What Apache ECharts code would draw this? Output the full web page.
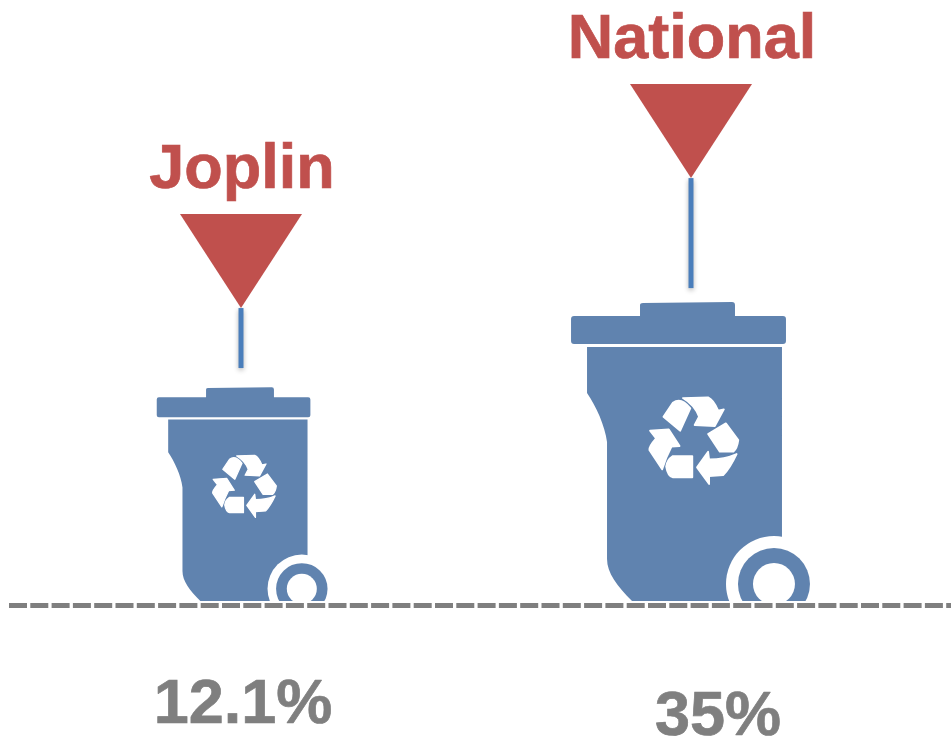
<!DOCTYPE html>
<html>
<head>
<meta charset="utf-8">
<style>html,body{margin:0;padding:0;background:#fff}#c{width:951px;height:738px}</style>
<script src="https://cdn.jsdelivr.net/npm/echarts@6/dist/echarts.min.js"></script>
</head>
<body>
<div id="c"></div>
<script>
var categories = ['Joplin', 'National'];
var recyclingRates = [12.1, 35];
var rateLabels = ['12.1%', '35%'];

// Presentation only: offsets per category, in pixels
var stemGap = [20, 15];
var stemLength = [60, 110];
var binDx = [1.5, 0];
var valueLabelDx = [2, 27];
var valueLabelY = [706, 718];
var nameGap = 43;

var C_BIN = '#6083AF', C_RED = '#C0504D', C_STEM = '#4A7EBB', C_GREY = '#7F7F7F';
var FONT = '"Liberation Sans", Arial, sans-serif';
var AXIS_MIN = -45.3, AXIS_MAX = 116.7, BIN_UNITS = 298;

var LID = 'M-117 -285 L-51 -285 L-51 -296 Q-51 -298 -48 -298 L41 -299 Q44 -299 44 -296 L44 -285 L92 -285 Q95 -285 95 -282 L95 -260 Q95 -257 92 -257 L-117 -257 Q-120 -257 -120 -260 L-120 -282 Q-120 -285 -117 -285 Z';
var BODY = 'M-104 -254 L91 -254 L91 0 L-59 0 C-74 -15 -84 -28 -84 -42 L-84 -159 C-86 -175 -95 -195 -104 -208 Z';
var RECYCLE = 'M130 24 L205 22 Q222 30 235 62 L252 58 L225 108 L165 105 L178 80 Q165 45 130 24 Z ' +
  'M72 80 L100 38 Q125 20 152 55 L122 122 Z ' +
  'M205 132 L258 100 L295 150 Q292 175 280 185 L240 185 Z ' +
  'M290 192 Q270 235 250 255 L208 258 L208 282 L172 232 L205 185 L208 208 Q255 208 290 192 Z ' +
  'M80 230 Q82 210 100 198 L158 198 L158 262 L100 262 Q85 260 80 230 Z ' +
  'M32 122 L88 118 L120 168 L96 170 Q78 205 68 238 L30 180 Q28 170 50 145 Z';

function renderBin(params, api) {
  var i = params.dataIndex;
  var top = api.coord([api.value(0), api.value(1)]);
  var base = api.coord([api.value(0), AXIS_MIN]);
  var mx = base[0], cx = mx + binDx[i], by = base[1], ty = top[1];
  var s = (by - ty) / BIN_UNITS;
  function box(x0, y0, x1, y1) {
    return { x: cx + x0 * s, y: by + y0 * s, width: (x1 - x0) * s, height: (y1 - y0) * s };
  }
  function path(d, x0, y0, x1, y1, fill, stroke, lw) {
    var b = box(x0, y0, x1, y1);
    return { type: 'path', shape: { pathData: d, x: b.x, y: b.y, width: b.width, height: b.height, layout: 'cover' },
      style: { fill: fill, stroke: stroke || null, lineWidth: lw || 0, lineJoin: 'round' } };
  }
  function disc(r, fill) {
    return { type: 'circle', shape: { cx: cx + 83 * s, cy: by - 17 * s, r: r * s }, style: { fill: fill } };
  }
  var b = box(30, 0, 140, 40);
  var stemBottom = ty - stemGap[i];
  var tip = stemBottom - stemLength[i];
  var triTop = tip - 94;
  return {
    type: 'group',
    children: [
      path(BODY, -104, -254, 91, 0, C_BIN),
      disc(48, '#fff'),
      disc(36, C_BIN),
      disc(21, '#fff'),
      { type: 'rect', shape: b, style: { fill: '#fff' } },
      path(LID, -120, -299, 95, -257, C_BIN),
      path(RECYCLE, -41.7, -203.7, 47.3, -117, '#fff', '#fff', 1.8 * s),
      { type: 'line', shape: { x1: mx, y1: tip, x2: mx, y2: stemBottom },
        style: { stroke: C_STEM, lineWidth: 5, shadowColor: 'rgba(0,0,0,0.3)', shadowBlur: 5, shadowOffsetY: 2 } },
      { type: 'polygon', shape: { points: [[mx - 61, triTop], [mx + 61, triTop], [mx, tip]] }, style: { fill: C_RED } },
      { type: 'text', x: mx + 1, y: triTop - nameGap,
        style: { text: categories[i], fill: C_RED, stroke: C_RED, lineWidth: 0.7, font: 'bold 63px ' + FONT, textAlign: 'center', textVerticalAlign: 'middle' } },
      { type: 'text', x: mx + valueLabelDx[i], y: valueLabelY[i],
        style: { text: rateLabels[i], fill: C_GREY, stroke: C_GREY, lineWidth: 0.7, font: 'bold 63px ' + FONT, textAlign: 'center', textVerticalAlign: 'middle' } }
    ]
  };
}

var chart = echarts.init(document.getElementById('c'), null, { renderer: 'canvas' });
chart.setOption({
  animation: false,
  backgroundColor: '#fff',
  grid: { left: 16, width: 900, top: 0, height: 601 },
  xAxis: { type: 'category', data: categories, show: false },
  yAxis: { type: 'value', min: AXIS_MIN, max: AXIS_MAX, show: false },
  series: [{
    type: 'custom',
    clip: false,
    silent: true,
    renderItem: renderBin,
    encode: { x: 0, y: 1 },
    data: categories.map(function (c, i) { return [i, recyclingRates[i]]; })
  }],
  graphic: [{
    type: 'line',
    z: 100,
    silent: true,
    shape: { x1: 9, y1: 605.5, x2: 951, y2: 605.5 },
    style: { stroke: C_GREY, lineWidth: 5, lineDash: [18, 3.3] }
  }]
});
</script>
</body>
</html>
